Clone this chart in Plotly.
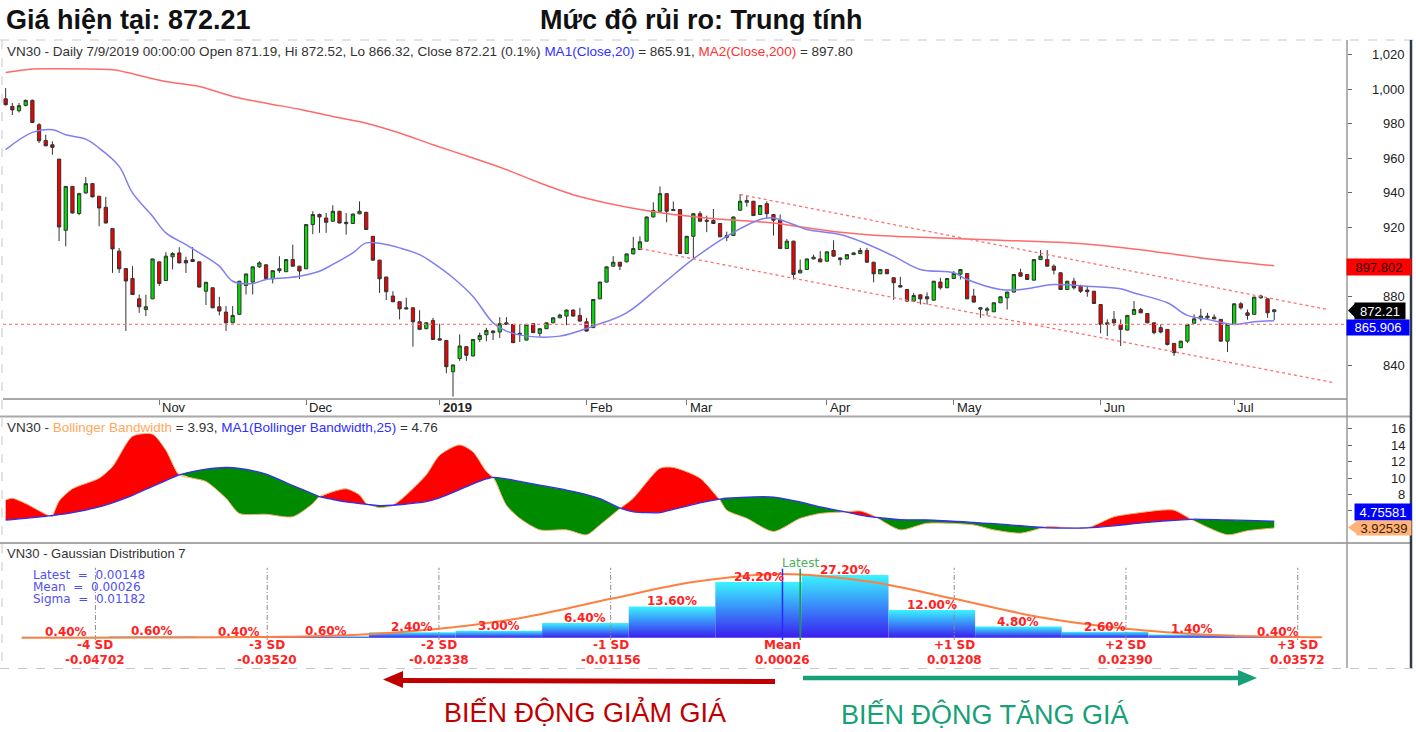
import plotly.graph_objects as go

W, H = 1416, 732

# ---------------- price data (daily candles, index = trading day) ----------------
open_p = [
    994.4, 990.0, 987.5, 990.6, 993.5, 979.4, 970.3, 967.8, 959.5, 918.3,
    943.7, 928.0, 939.9, 945.3, 938.0, 931.6, 919.3, 906.2, 896.1, 890.4,
    878.6, 872.4, 878.6, 900.0, 889.2, 902.9, 905.2, 900.8, 901.3, 900.0,
    883.0, 885.0, 874.0, 870.9, 864.7, 869.6, 886.3, 888.3, 897.1, 898.3,
    890.2, 894.9, 894.3, 901.3, 897.5, 896.0, 921.6, 927.4, 925.4, 923.5,
    929.3, 922.1, 922.2, 927.8, 928.7, 914.8, 901.0, 891.2, 880.2, 876.9,
    873.4, 873.4, 865.3, 861.3, 866.1, 855.5, 854.5, 836.4, 844.0, 850.9,
    845.5, 855.1, 857.8, 860.0, 859.4, 863.8, 863.8, 858.0, 854.7, 864.2,
    858.6, 861.3, 864.7, 867.6, 868.6, 872.1, 869.0, 865.3, 861.9, 878.6,
    888.3, 897.5, 899.8, 900.0, 904.6, 907.1, 912.0, 926.0, 929.3, 939.5,
    929.7, 930.3, 904.8, 914.8, 927.9, 924.1, 923.9, 922.2, 914.2, 915.3,
    929.9, 934.5, 935.1, 927.4, 933.7, 927.4, 924.1, 907.7, 912.0, 893.6,
    895.6, 901.7, 901.7, 900.4, 906.6, 902.3, 901.7, 904.2, 904.8, 906.6,
    899.8, 893.1, 895.6, 890.8, 886.3, 884.0, 877.3, 880.9, 879.8, 877.8,
    888.3, 885.0, 890.4, 892.9, 893.3, 880.2, 872.6, 872.0, 871.1, 876.3,
    879.2, 882.5, 893.7, 892.7, 889.4, 901.3, 901.3, 897.5, 893.7, 884.0,
    888.8, 885.9, 883.7, 883.0, 875.3, 864.7, 866.7, 863.8, 860.5, 869.6,
    872.4, 870.1, 864.7, 861.9, 860.9, 852.8, 850.3, 854.1, 864.4, 867.0,
    867.6, 868.0, 866.7, 854.1, 863.8, 875.7, 870.5, 869.6, 879.2, 878.6,
    871.19]
high_p = [
    1000.6, 992.0, 992.0, 994.0, 994.0, 980.3, 973.6, 969.8, 959.5, 943.7,
    943.7, 940.0, 949.1, 945.5, 938.0, 937.6, 919.3, 908.0, 896.1, 897.5,
    881.1, 881.0, 901.7, 900.0, 905.6, 905.6, 908.5, 903.0, 908.5, 900.2,
    888.4, 885.2, 879.8, 874.4, 874.4, 889.0, 893.2, 897.3, 900.4, 898.5,
    895.1, 903.3, 901.5, 910.0, 897.7, 921.8, 929.3, 928.0, 928.3, 932.8,
    929.5, 928.3, 927.9, 935.0, 928.9, 915.0, 901.2, 891.4, 883.0, 877.1,
    879.2, 873.6, 872.0, 865.0, 867.6, 864.2, 854.7, 840.5, 858.0, 851.1,
    855.3, 859.0, 861.8, 860.2, 868.0, 868.0, 864.0, 864.0, 864.0, 864.4,
    861.5, 864.9, 867.8, 870.0, 872.5, 872.5, 873.4, 867.6, 878.4, 888.5,
    897.3, 903.3, 900.0, 904.8, 914.5, 914.8, 926.2, 934.5, 943.7, 939.7,
    935.0, 930.5, 915.0, 928.1, 929.3, 926.8, 930.6, 922.4, 917.5, 926.2,
    939.3, 938.0, 935.3, 932.8, 935.0, 927.6, 927.4, 913.3, 912.2, 901.3,
    901.9, 904.2, 906.2, 906.0, 912.5, 902.5, 904.4, 905.4, 908.1, 908.1,
    900.0, 895.8, 895.8, 891.0, 891.3, 884.2, 882.0, 881.1, 882.3, 889.0,
    890.8, 890.6, 894.7, 895.8, 893.5, 884.4, 873.8, 874.0, 876.5, 880.0,
    882.7, 892.9, 896.0, 892.9, 901.5, 906.8, 906.8, 898.5, 893.9, 889.0,
    890.8, 886.8, 885.9, 883.2, 875.5, 866.7, 871.5, 866.7, 869.2, 877.3,
    873.4, 870.3, 864.9, 863.8, 861.1, 853.0, 854.3, 864.0, 869.6, 872.8,
    870.5, 869.6, 866.9, 864.0, 875.9, 876.7, 872.4, 879.8, 881.0, 878.8,
    872.52]
low_p = [
    990.5, 985.0, 986.5, 990.0, 980.5, 968.8, 966.9, 962.0, 912.0, 909.0,
    928.0, 927.0, 939.5, 937.4, 920.6, 922.3, 893.6, 893.6, 860.0, 881.0,
    870.5, 868.6, 878.4, 886.0, 889.0, 895.6, 899.2, 893.6, 900.0, 885.2,
    875.0, 873.2, 869.0, 860.0, 864.5, 869.4, 881.1, 881.1, 896.5, 890.2,
    887.5, 893.6, 894.1, 897.3, 890.0, 895.8, 916.0, 916.8, 916.8, 923.3,
    922.3, 915.8, 922.0, 927.6, 918.5, 900.8, 882.0, 877.9, 876.7, 866.7,
    872.6, 850.9, 860.7, 861.0, 854.9, 854.5, 835.5, 822.0, 842.7, 842.7,
    845.3, 853.6, 854.0, 854.7, 856.0, 863.6, 853.0, 853.6, 854.5, 858.8,
    856.7, 861.1, 864.5, 867.4, 863.4, 868.4, 865.5, 859.7, 861.7, 878.4,
    888.1, 897.3, 895.2, 899.8, 904.4, 906.9, 911.8, 925.8, 929.1, 922.9,
    929.5, 904.6, 904.6, 901.7, 923.3, 917.2, 922.0, 914.3, 912.0, 915.1,
    929.7, 932.0, 926.6, 927.2, 925.0, 915.2, 907.5, 907.5, 889.8, 893.4,
    895.4, 901.5, 899.8, 900.2, 903.1, 898.0, 901.5, 904.0, 904.6, 899.6,
    888.2, 892.9, 892.9, 878.0, 885.2, 876.7, 876.7, 875.3, 875.3, 877.6,
    884.0, 884.8, 890.0, 889.8, 878.4, 876.5, 867.6, 869.0, 870.9, 876.1,
    872.4, 882.3, 891.5, 889.6, 889.2, 901.1, 897.3, 892.7, 883.8, 883.8,
    884.0, 882.0, 879.8, 875.7, 858.6, 857.0, 862.8, 851.3, 860.3, 869.4,
    870.3, 864.5, 858.0, 858.6, 851.6, 845.5, 850.1, 853.1, 864.2, 865.6,
    866.7, 866.7, 853.9, 847.8, 863.6, 872.4, 866.5, 869.4, 878.6, 867.6,
    866.32]
close_p = [
    991.0, 988.0, 990.4, 993.5, 980.7, 970.1, 967.2, 966.3, 920.2, 943.7,
    928.3, 939.5, 945.3, 937.6, 931.2, 922.5, 907.5, 896.0, 888.9, 881.1,
    874.0, 874.0, 901.7, 887.5, 903.3, 904.8, 899.4, 899.4, 900.2, 885.4,
    888.2, 873.4, 871.5, 864.7, 869.0, 888.8, 893.0, 897.1, 899.4, 890.4,
    894.9, 896.0, 901.3, 897.5, 894.7, 921.6, 927.4, 926.0, 922.9, 929.3,
    922.5, 922.9, 927.7, 929.3, 918.7, 901.0, 890.2, 882.7, 876.9, 872.8,
    872.8, 865.3, 860.9, 864.7, 855.1, 854.7, 839.3, 840.3, 851.3, 845.9,
    855.1, 857.4, 860.3, 859.0, 864.2, 864.7, 853.2, 858.6, 863.8, 859.0,
    861.3, 864.7, 867.6, 869.2, 872.1, 868.6, 865.7, 859.9, 878.2, 888.3,
    897.1, 899.8, 897.5, 904.6, 907.7, 911.6, 926.0, 929.7, 939.5, 929.3,
    930.3, 904.8, 914.8, 927.9, 923.5, 923.5, 922.2, 914.5, 915.2, 926.0,
    935.1, 935.5, 926.8, 932.6, 927.9, 924.1, 907.7, 912.0, 892.7, 895.2,
    901.7, 902.7, 900.0, 905.8, 903.3, 901.3, 904.2, 905.2, 906.6, 899.8,
    893.1, 895.6, 893.1, 887.9, 885.4, 877.3, 880.5, 878.6, 878.6, 888.8,
    885.0, 890.4, 893.3, 895.6, 878.6, 876.7, 873.4, 872.8, 876.3, 879.8,
    882.5, 892.7, 891.7, 889.8, 901.3, 903.3, 897.5, 895.2, 884.0, 888.8,
    885.0, 883.0, 882.7, 875.9, 863.8, 863.8, 864.7, 860.9, 869.0, 872.4,
    870.5, 864.7, 859.0, 859.4, 852.2, 847.4, 854.1, 863.8, 867.0, 868.6,
    868.6, 867.0, 854.1, 863.8, 875.7, 873.4, 869.0, 879.6, 880.2, 870.5,
    872.21]
day = list(range(len(close_p)))

month_labels = ["Nov", "Dec", "2019", "Feb", "Mar", "Apr", "May", "Jun", "Jul"]
month_start = [23, 45, 65, 87, 102, 123, 142, 164, 184]

# moving averages
ma20_x = [0, 4, 7, 9, 12, 14, 17, 19, 22, 24, 27, 29, 32, 34, 37, 39, 42, 44, 47, 49,
          52, 54, 57, 59, 62, 64, 67, 70, 73, 75, 78, 83, 88, 93, 98, 103, 108, 113, 115,
          118, 120, 125, 128, 133, 137, 142, 144, 149, 152, 157, 162, 167, 169, 174, 177,
          180, 184, 187, 190]
ma20_y = [965.0, 975.0, 976.5, 973.6, 971.1, 965.9, 955.3, 939.9, 926.4, 916.8, 910.0,
          905.2, 897.5, 888.8, 887.5, 889.8, 890.8, 891.7, 894.6, 898.5, 905.2, 911.0,
          910.0, 908.1, 904.2, 899.4, 890.8, 880.0, 864.7, 859.9, 857.0, 857.0, 862.8,
          870.5, 885.9, 901.7, 914.8, 924.5, 925.4, 921.6, 918.7, 915.8, 911.9, 903.3,
          895.6, 893.7, 889.8, 884.0, 884.0, 886.9, 885.9, 884.4, 882.0, 876.3, 869.0,
          866.7, 863.8, 865.3, 865.91]
ma200_x = [0, 4, 7, 16, 18, 24, 29, 34, 39, 44, 49, 54, 59, 64, 70, 75, 80, 85, 90, 95,
           100, 105, 110, 115, 120, 125, 130, 135, 149, 159, 169, 179, 190]
ma200_y = [1009.6, 1011.6, 1011.8, 1011.2, 1009.8, 1004.4, 1001.5, 995.8, 991.9, 988.4,
           984.2, 980.3, 974.6, 967.8, 960.1, 953.4, 945.7, 938.9, 934.1, 930.3, 927.4,
           925.4, 923.9, 922.5, 919.7, 917.1, 915.4, 914.5, 912.5, 911.0, 907.5, 902.3,
           897.8]
support_level = 863.8
channel_upper_x = [110, 198]
channel_upper_y = [939.0, 872.4]
channel_lower_x = [95, 199]
channel_lower_y = [907.7, 830.0]
price_ticks = [840, 860, 880, 900, 920, 940, 960, 980, 1000, 1020]
price_tick_labels = ["840", "", "880", "", "920", "940", "960", "980", "1,000", "1,020"]
last_ma200, last_close, last_ma20 = "897.802", "872.21", "865.906"

# ---------------- Bollinger bandwidth panel ----------------
bb_x = [0, 1, 3, 6, 7, 8, 10, 14, 16, 19, 22, 24, 26, 28, 30, 33, 35, 39, 43, 46, 47, 49,
        51, 53, 54, 56, 58, 60, 63, 65, 68, 70, 72, 73, 75, 77, 80, 84, 87, 89, 92, 94, 98,
        100, 104, 107, 108, 111, 115, 119, 122, 126, 128, 130, 134, 138, 145, 148, 152,
        156, 162, 166, 169, 173, 175, 178, 183, 186, 190]
bb_val = [7.35, 7.55, 6.9, 5.6, 5.3, 7.2, 8.7, 10.0, 11.4, 15.1, 15.35, 13.4, 10.4, 10.0,
          9.6, 7.55, 5.7, 5.6, 5.3, 6.9, 7.75, 8.35, 8.7, 7.95, 6.9, 6.4, 6.7, 7.95, 10.4,
          12.8, 14.05, 13.2, 10.8, 10.1, 6.7, 5.1, 3.7, 3.7, 3.1, 4.3, 6.3, 7.55, 11.2,
          11.3, 10.0, 7.35, 6.1, 5.1, 3.5, 5.1, 5.7, 5.9, 6.0, 5.4, 3.7, 4.5, 4.3, 3.7,
          3.3, 4.1, 3.95, 5.3, 5.7, 6.1, 6.1, 4.8, 3.1, 3.6, 3.93]
bb_ma = [4.9, 4.95, 5.1, 5.35, 5.45, 5.55, 5.8, 6.5, 7.0, 7.9, 9.0, 9.7, 10.4, 10.8, 11.1,
         11.3, 11.2, 10.5, 9.1, 8.1, 7.75, 7.4, 7.1, 6.9, 6.8, 6.65, 6.7, 6.85, 7.15, 7.6,
         8.6, 9.3, 9.9, 10.1, 9.9, 9.6, 9.15, 8.55, 8.0, 7.5, 6.35, 5.9, 5.8, 6.2, 7.0,
         7.45, 7.55, 7.7, 7.7, 7.1, 6.5, 5.85, 5.5, 5.25, 4.95, 4.9, 4.6, 4.45, 4.2, 3.95,
         3.95, 4.2, 4.45, 4.75, 4.85, 5.0, 4.9, 4.85, 4.76]
bb_ticks = [6, 8, 10, 12, 14, 16]
bb_tick_labels = ["", "8", "10", "12", "14", "16"]
last_bb_ma, last_bb = "4.75581", "3.92539"

# ---------------- Gaussian distribution panel ----------------
stat_latest, stat_mean, stat_sigma = 0.00148, 0.00026, 0.01182
bin_centers = [-0.04906, -0.04310, -0.03714, -0.03118, -0.02522, -0.01926, -0.01330,
               -0.00734, -0.00138, 0.00458, 0.01054, 0.01650, 0.02246, 0.02842, 0.03438]
bin_width = 0.00596
bin_pct = [0.40, 0.60, 0.40, 0.60, 2.40, 3.00, 6.40, 13.60, 24.20, 27.20, 12.00, 4.80,
           2.60, 1.40, 0.40]
curve_sd = [-4.43, -4.0, -3.5, -3.0, -2.5, -2.0, -1.5, -1.0, -0.5, 0.0, 0.5, 1.0, 1.5,
            2.0, 2.5, 3.0, 3.14]
curve_pct = [0.0, 0.01, 0.06, 0.3, 1.2, 3.9, 8.9, 16.9, 24.4, 27.7, 24.4, 16.9, 8.9, 3.9,
             1.2, 0.3, 0.2]
sd_names = ["-4 SD", "-3 SD", "-2 SD", "-1 SD", "Mean", "+1 SD", "+2 SD", "+3 SD"]
sd_values = [-0.04702, -0.03520, -0.02338, -0.01156, 0.00026, 0.01208, 0.02390, 0.03572]

# ---------------- helpers ----------------
FONT = "Liberation Sans, Arial, sans-serif"
VFONT = "DejaVu Sans, Verdana, sans-serif"


def X(p):
    return p / W


def Y(p):
    return 1 - p / H


fig = go.Figure()
ann = []
shapes = []


def txt(x, y, s, size=13, color="#333333", xanchor="left", yanchor="middle",
        family=FONT, xref="paper", yref="paper", **kw):
    ann.append(dict(x=x, y=y, xref=xref, yref=yref, text=s, showarrow=False,
                    xanchor=xanchor, yanchor=yanchor,
                    font=dict(size=size, color=color, family=family), **kw))


def pline(x0, y0, x1, y1, color, width=1, dash="solid"):
    shapes.append(dict(type="line", xref="paper", yref="paper", x0=X(x0), y0=Y(y0),
                       x1=X(x1), y1=Y(y1), line=dict(color=color, width=width, dash=dash),
                       layer="above"))


def ppath(points, color):
    d = "M " + " L ".join(f"{X(a):.5f},{Y(b):.5f}" for a, b in points) + " Z"
    shapes.append(dict(type="path", xref="paper", yref="paper", path=d,
                       fillcolor=color, line=dict(width=0), layer="above"))


# ---------------- price panel traces ----------------
fig.add_trace(go.Scatter(x=ma200_x, y=ma200_y, mode="lines", xaxis="x", yaxis="y",
                         line=dict(color="#FF6A6A", width=1.5, shape="spline"),
                         hoverinfo="skip"))
fig.add_trace(go.Scatter(x=ma20_x, y=ma20_y, mode="lines", xaxis="x", yaxis="y",
                         line=dict(color="#7F7FF2", width=1.5, shape="spline"),
                         hoverinfo="skip"))
for cx, cy in ((channel_upper_x, channel_upper_y), (channel_lower_x, channel_lower_y)):
    fig.add_trace(go.Scatter(x=cx, y=cy, mode="lines", xaxis="x", yaxis="y",
                             line=dict(color="#FF7070", width=1.3, dash="dot"),
                             hoverinfo="skip"))
fig.add_trace(go.Candlestick(
    x=day, open=open_p, high=high_p, low=low_p, close=close_p, xaxis="x", yaxis="y",
    increasing=dict(fillcolor="#00E000", line=dict(color="#333333", width=1)),
    decreasing=dict(fillcolor="#F00000", line=dict(color="#333333", width=1)),
    whiskerwidth=0, hoverinfo="skip"))
shapes.append(dict(type="line", xref="x domain", yref="y", x0=0, x1=1, y0=support_level,
                   y1=support_level, line=dict(color="#FF8080", width=1.2, dash="dot")))

# ---------------- Bollinger fill ----------------
xs, bbs, mas = [], [], []
for i in range(len(bb_x)):
    if i > 0:
        d0 = bb_val[i - 1] - bb_ma[i - 1]
        d1 = bb_val[i] - bb_ma[i]
        if d0 * d1 < 0:
            t = d0 / (d0 - d1)
            xc = bb_x[i - 1] + t * (bb_x[i] - bb_x[i - 1])
            yc = bb_ma[i - 1] + t * (bb_ma[i] - bb_ma[i - 1])
            xs.append(xc); bbs.append(yc); mas.append(yc)
    xs.append(bb_x[i]); bbs.append(bb_val[i]); mas.append(bb_ma[i])
upper = [max(a, b) for a, b in zip(bbs, mas)]
lower = [min(a, b) for a, b in zip(bbs, mas)]
SPL = dict(shape="spline", smoothing=0.7)
for edge, col in ((upper, "#FF0000"), (lower, "#008A00")):
    fig.add_trace(go.Scatter(x=xs, y=mas, mode="lines", xaxis="x2", yaxis="y2",
                             line=dict(width=0, **SPL), hoverinfo="skip"))
    fig.add_trace(go.Scatter(x=xs, y=edge, mode="lines", xaxis="x2", yaxis="y2",
                             line=dict(width=0, **SPL), fill="tonexty", fillcolor=col,
                             hoverinfo="skip"))
fig.add_trace(go.Scatter(x=xs, y=bbs, mode="lines", xaxis="x2", yaxis="y2",
                         line=dict(color="#F0B070", width=1, **SPL), hoverinfo="skip"))
fig.add_trace(go.Scatter(x=xs, y=mas, mode="lines", xaxis="x2", yaxis="y2",
                         line=dict(color="#3030F0", width=1.3, **SPL), hoverinfo="skip"))

# ---------------- Gaussian panel ----------------
for c, p in zip(bin_centers, bin_pct):
    x0, x1 = c - bin_width / 2, c + bin_width / 2
    fig.add_trace(go.Scatter(
        x=[x0, x0, x1, x1, x0], y=[0, p, p, 0, 0], mode="lines", fill="toself",
        xaxis="x3", yaxis="y3", line=dict(width=0), hoverinfo="skip",
        fillgradient=dict(type="vertical", colorscale=[[0, "#3A1EF0"], [1, "#3AF4FF"]])))
    ann.append(dict(x=c, y=p, xref="x3", yref="y3", text=f"{p:.2f}%", showarrow=False,
                    xanchor="center", yanchor="middle", yshift=5,
                    font=dict(size=12, color="#FF2222", family=VFONT, weight="bold")))
for name, v in zip(sd_names, sd_values):
    if name != "Mean":
        fig.add_trace(go.Scatter(x=[v, v], y=[-1, 30.4], mode="lines", xaxis="x3",
                                 yaxis="y3", hoverinfo="skip",
                                 line=dict(color="#8A8A8A", width=1,
                                           dash="5px,2px,1px,2px")))
    ann.append(dict(x=v, y=Y(645), xref="x3", yref="paper", text=name, showarrow=False,
                    xanchor="center", yanchor="middle",
                    font=dict(size=12, color="#FF2222", family=VFONT, weight="bold")))
    ann.append(dict(x=v, y=Y(660), xref="x3", yref="paper", text=f"{v:.5f}",
                    showarrow=False, xanchor="center", yanchor="middle",
                    font=dict(size=12, color="#FF2222", family=VFONT, weight="bold")))
fig.add_trace(go.Scatter(x=[stat_mean + s * stat_sigma for s in curve_sd], y=curve_pct,
                         mode="lines", xaxis="x3", yaxis="y3", hoverinfo="skip",
                         line=dict(color="#FF7F40", width=2, shape="spline")))
fig.add_trace(go.Scatter(x=[stat_mean, stat_mean], y=[-1, 30.0], mode="lines", xaxis="x3",
                         yaxis="y3", line=dict(color="#2828FF", width=1.5), hoverinfo="skip"))
fig.add_trace(go.Scatter(x=[stat_latest, stat_latest], y=[-1, 30.0], mode="lines",
                         xaxis="x3", yaxis="y3", line=dict(color="#1E9A3C", width=1.5),
                         hoverinfo="skip"))
ann.append(dict(x=stat_latest, y=Y(563), xref="x3", yref="paper", text="Latest",
                showarrow=False, xanchor="center", yanchor="middle",
                font=dict(size=12, color="#4CAF60", family=VFONT)))
nb = "\u00a0"
for i, (lab, v) in enumerate((("Latest", stat_latest), ("Mean", stat_mean),
                              ("Sigma", stat_sigma))):
    txt(X(31), Y(575 + 12 * i), f"{lab}{nb}{nb}={nb}{nb}{v:.5f}", size=12,
        color="#5050F0", family=VFONT)

# ---------------- texts ----------------
txt(X(4), Y(20), "<b>Giá hiện tại: 872.21</b>", size=27, color="#111111")
txt(X(538), Y(20), "<b>Mức độ rủi ro: Trung tính</b>", size=27, color="#111111")
txt(X(5), Y(51), "VN30 - Daily 7/9/2019 00:00:00 Open 871.19, Hi 872.52, Lo 866.32, "
    "Close 872.21 (0.1%) <span style='color:#3030FF'>MA1(Close,20)</span> = 865.91, "
    "<span style='color:#FF3030'>MA2(Close,200)</span> = 897.80", size=13.5)
txt(X(5), Y(427), "VN30 - <span style='color:#FFA860'>Bollinger Bandwidth</span> = 3.93, "
    "<span style='color:#3030FF'>MA1(Bollinger Bandwidth,25)</span> = 4.76", size=13.5)
txt(X(5), Y(553), "VN30 - Gaussian Distribution 7", size=13)

for lab, m in zip(month_labels, month_start):
    ann.append(dict(x=m, y=Y(408), xref="x", yref="paper",
                    text=f"<b>{lab}</b>" if lab.isdigit() else lab, showarrow=False,
                    xanchor="left", yanchor="middle", xshift=1,
                    font=dict(size=13, color="#222222", family=FONT)))
for v, s in zip(price_ticks, price_tick_labels):
    if s:
        ann.append(dict(x=X(1407), y=v, xref="paper", yref="y", text=s,
                        showarrow=False, xanchor="right", yanchor="middle",
                        font=dict(size=13, color="#222222", family=FONT)))
for v, s in zip(bb_ticks, bb_tick_labels):
    if s:
        ann.append(dict(x=X(1407), y=v, xref="paper", yref="y2", text=s,
                        showarrow=False, xanchor="right", yanchor="middle",
                        font=dict(size=13, color="#222222", family=FONT)))


# value tags on the right axis
def tag(xc, yc, w, h, s, bg, fg, arrow_tip=None):
    if arrow_tip is not None:
        x0 = xc - w / 2
        ppath([(arrow_tip, yc), (x0 + 1, yc - h / 2), (x0 + 1, yc + h / 2)], bg)
    txt(X(xc), Y(yc), s, size=13, color=fg, xanchor="center", bgcolor=bg,
        width=w - 2, height=h - 2, borderpad=1)


tag(1378.5, 266.5, 64, 16, last_ma200, "#FF0000", "#2A0000")
tag(1380, 310.5, 50, 16, last_close, "#000000", "#FFFFFF", arrow_tip=1348)
tag(1378, 327.5, 62, 15, last_ma20, "#0000FF", "#FFFFFF")
tag(1382.5, 511.5, 56, 16, last_bb_ma, "#0000FF", "#FFFFFF")
tag(1383.5, 527.5, 54, 14, last_bb, "#FFB27A", "#3A2000", arrow_tip=1348)

# frame lines
pline(0, 40, W, 40, "#C8C8C8", 1, "dash")
pline(2, 40, 2, 668, "#C8C8C8", 1, "dash")
pline(0, 668.5, W, 668.5, "#C8C8C8", 1, "dash")
pline(3, 399, 1347, 399, "#A8A8A8", 2)
pline(0, 416.5, 1411, 416.5, "#A8A8A8", 2)
pline(0, 543, 1411, 543, "#A8A8A8", 2)
pline(1347, 40, 1347, 668, "#9A9A9A", 1.5)
pline(1411, 40, 1411, 668, "#2E3A4A", 2.5)

# bottom arrows
pline(400, 680.5, 775, 681.5, "#C00000", 5)
ppath([(383, 679.5), (403, 671), (403, 688)], "#C00000")
pline(803, 678, 1240, 678, "#17A077", 4.5)
ppath([(1257, 678), (1238, 670), (1238, 686)], "#17A077")
txt(X(585), Y(712), "BIẾN ĐỘNG GIẢM GIÁ", size=27, color="#C00000", xanchor="center")
txt(X(985), Y(714), "BIẾN ĐỘNG TĂNG GIÁ", size=27, color="#17A077", xanchor="center")

# ---------------- layout ----------------
xdom = [X(3), X(1347)]
fig.update_layout(
    width=W, height=H, margin=dict(l=0, r=0, t=0, b=0),
    paper_bgcolor="white", plot_bgcolor="white", showlegend=False,
    font=dict(family=FONT),
    annotations=ann, shapes=shapes,
    xaxis=dict(domain=xdom, range=[-0.4, 200.9], anchor="y", showgrid=False,
               zeroline=False, showticklabels=False, ticks="outside", tickvals=month_start,
               ticklen=5, tickcolor="#777777", showline=False,
               rangeslider=dict(visible=False)),
    yaxis=dict(domain=[Y(399), Y(42)], range=[820.6, 1027.3], anchor="x", side="right",
               showgrid=False, zeroline=False, showticklabels=False, ticks="outside",
               tickvals=price_ticks, ticklen=4, tickcolor="#666666"),
    xaxis2=dict(domain=xdom, range=[-0.4, 200.9], anchor="y2", visible=False),
    yaxis2=dict(domain=[Y(543), Y(417)], range=[2.1, 17.45], anchor="x2", side="right",
                showgrid=False, zeroline=False, showticklabels=False, ticks="outside",
                tickvals=bb_ticks, ticklen=4, tickcolor="#666666"),
    xaxis3=dict(domain=xdom, range=[-0.05338, 0.03911], anchor="y3", visible=False),
    yaxis3=dict(domain=[Y(668), Y(545)], range=[-13.2, 40.3], anchor="x3", visible=False),
)

fig.write_html(
    "out.html",
    config={"displayModeBar": False},
    post_script="document.body.style.margin='0';"
                "document.documentElement.style.overflow='hidden';"
                "document.body.style.overflow='hidden';")
